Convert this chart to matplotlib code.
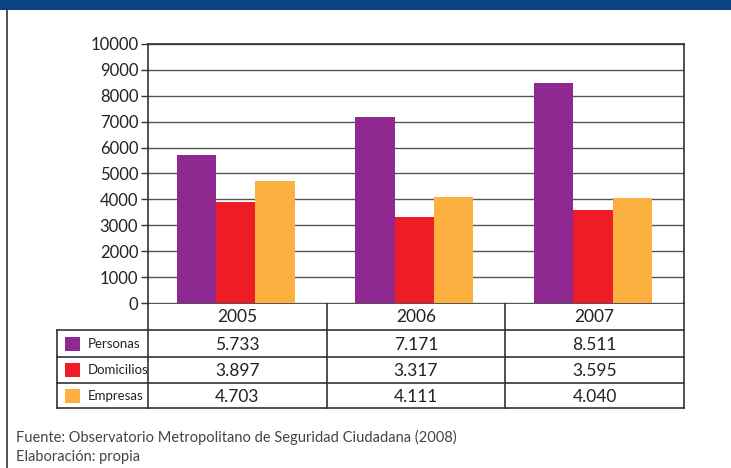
import matplotlib
matplotlib.use("Agg")
import matplotlib.pyplot as plt
from matplotlib.patches import Rectangle

plt.rcParams['font.family'] = ['Lato', 'DejaVu Sans']

years = ["2005", "2006", "2007"]
series = ["Personas", "Domicilios", "Empresas"]
personas = [5733, 7171, 8511]
domicilios = [3897, 3317, 3595]
empresas = [4703, 4111, 4040]
yticks = [0, 1000, 2000, 3000, 4000, 5000, 6000, 7000, 8000, 9000, 10000]
footer = ["Fuente: Observatorio Metropolitano de Seguridad Ciudadana (2008)",
          "Elaboración: propia"]

colors = ["#8F2890", "#EE1C25", "#FBB040"]
values = [personas, domicilios, empresas]

W, H = 731, 468
fig = plt.figure(figsize=(W / 100, H / 100), dpi=100)

# overlay axes in pixel coordinates
ov = fig.add_axes([0, 0, 1, 1])
ov.set_xlim(0, W)
ov.set_ylim(H, 0)
ov.axis("off")

# top band and left border
ov.add_patch(Rectangle((0, 0), W, 10, color="#0B4382", lw=0))
ov.plot([6.5, 6.5], [10, H], color="#333333", lw=1.2)

# main bar axes
L, R, T, B = 148, 684, 44, 303
ax = fig.add_axes([L / W, 1 - B / H, (R - L) / W, (B - T) / H])
n = len(years)
bw = 0.22
for i, (vals, c) in enumerate(zip(values, colors)):
    xs = [k + (i - 1) * bw - 0.01 for k in range(n)]
    ax.bar(xs, vals, width=bw, color=c, zorder=3, linewidth=0)
ax.set_xlim(-0.5, n - 0.5)
ax.set_ylim(0, 10000)
ax.set_yticks(yticks)
ax.set_yticklabels([str(t) for t in yticks], fontsize=12, color="#222222")
ax.set_xticks([])
ax.yaxis.grid(True, color="#555555", lw=1, zorder=1)
ax.tick_params(axis="y", length=5, width=1, color="#333333", pad=2)
for s in ax.spines.values():
    s.set_color("#333333")
    s.set_linewidth(1.2)
ax.spines["bottom"].set_visible(False)

# table
col_edges = [L + (R - L) * k / n for k in range(n + 1)]
row_edges = [303, 330, 357, 383, 408]
lab_left = 57
lc = "#333333"
lw = 1.2
ov.plot([L, R], [row_edges[0], row_edges[0]], color=lc, lw=lw)
for y in row_edges[1:]:
    ov.plot([lab_left, R], [y, y], color=lc, lw=lw)
ov.plot([lab_left, lab_left], [row_edges[1], row_edges[-1]], color=lc, lw=lw)
for x in col_edges:
    ov.plot([x, x], [row_edges[0], row_edges[-1]], color=lc, lw=lw)

for k, yr in enumerate(years):
    cx = (col_edges[k] + col_edges[k + 1]) / 2
    ov.text(cx, (row_edges[0] + row_edges[1]) / 2 + 1, yr, ha="center", va="center",
            fontsize=12.5, color="#222222")
for i, (name, vals, c) in enumerate(zip(series, values, colors)):
    y0, y1 = row_edges[i + 1], row_edges[i + 2]
    cy = (y0 + y1) / 2
    ov.add_patch(Rectangle((65, cy - 7), 15, 14, color=c, lw=0))
    ov.text(88, cy + 0.5, name, ha="left", va="center", fontsize=9.5, color="#222222")
    for k, v in enumerate(vals):
        cx = (col_edges[k] + col_edges[k + 1]) / 2
        ov.text(cx, cy + 1, f"{v:,}".replace(",", "."), ha="center", va="center",
                fontsize=12.5, color="#222222")

ov.text(16, 437, footer[0], ha="left", va="center", fontsize=10.5, color="#444444")
ov.text(16, 457, footer[1], ha="left", va="center", fontsize=10.5, color="#444444")

fig.savefig("out.png", dpi=100)
